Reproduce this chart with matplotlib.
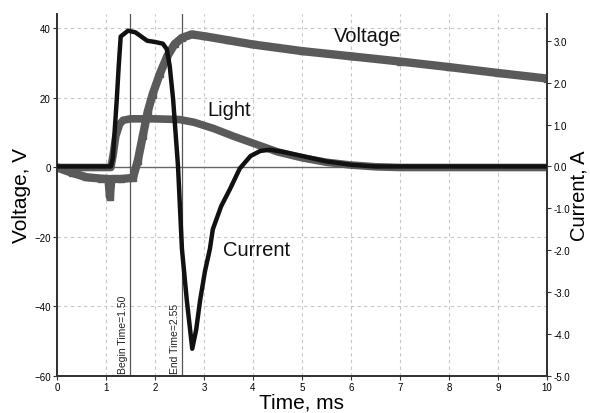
import numpy as np
import matplotlib.pyplot as plt

plt.rcParams['font.family'] = ['Liberation Sans', 'DejaVu Sans']

# voltage trace (V, left axis)
t_volt = [0, 0.3, 0.6, 0.9, 1.05, 1.08, 1.11, 1.3, 1.55, 1.65, 1.75, 1.85, 1.95, 2.1,
          2.25, 2.4, 2.55, 2.75, 3.0, 3.5, 4.0, 5.0, 6.0, 7.0, 8.0, 9.0, 10.0]
volt = [0, -1.5, -2.8, -3.2, -3.3, -8.5, -3.3, -3.3, -3.0, 2, 9, 16, 21, 27,
        32, 35.5, 37.3, 38.3, 37.8, 36.6, 35.4, 33.5, 32.0, 30.5, 28.9, 27.2, 25.6]

# light trace (arb. units, plotted on left axis)
t_light = [0, 1.1, 1.15, 1.2, 1.28, 1.35, 1.5, 2.0, 2.5, 2.8, 3.2, 3.6, 4.0,
           4.5, 5.0, 5.5, 6.0, 6.5, 7.0, 10.0]
light = [0, 0, 4, 9, 12.5, 13.6, 14, 14, 13.8, 13.0, 11.2, 9.0, 7.0,
         4.5, 2.8, 1.5, 0.7, 0.2, 0, 0]

# current trace (A, right axis)
t_curr = [0, 1.1, 1.14, 1.18, 1.22, 1.26, 1.3, 1.45, 1.6, 1.84, 2.0, 2.16, 2.24, 2.3,
          2.37, 2.47, 2.55, 2.65, 2.76, 2.84, 2.92, 3.02, 3.12, 3.18, 3.35, 3.53,
          3.73, 3.95, 4.15, 4.35, 4.6, 5.0, 5.5, 6.0, 6.5, 10.0]
curr = [0, 0, 0.2, 0.9, 1.6, 2.4, 3.1, 3.24, 3.2, 3.0, 2.97, 2.93, 2.8, 2.4,
        1.6, 0, -1.97, -3.2, -4.35, -3.9, -3.2, -2.5, -1.97, -1.5, -0.95, -0.54,
        -0.05, 0.25, 0.37, 0.4, 0.35, 0.25, 0.12, 0.04, 0, 0]

begin_time = 1.50
end_time = 2.55

gray = '#5a5a5a'
spine_c = '#333333'

fig = plt.figure(figsize=(5.9, 4.14), dpi=100)
ax1 = fig.add_axes([0.0966, 0.0894, 0.8305, 0.8746])
ax2 = ax1.twinx()

ax1.set_xlim(0, 10)
ax1.set_ylim(-60, 44.2)
ax2.set_ylim(-5, 3.64)

# grid
for x in range(1, 10):
    ax1.axvline(x, color='#c8c8c8', lw=0.8, ls=(0, (3, 3)), zorder=0)
for y in [40, 20, -20, -40]:
    ax1.axhline(y, color='#c8c8c8', lw=0.8, ls=(0, (3, 3)), zorder=0)
ax1.axhline(0, color='#666666', lw=1.0, zorder=1)

ax1.axvline(begin_time, color='#555555', lw=0.9, zorder=1)
ax1.axvline(end_time, color='#555555', lw=0.9, zorder=1)
ax1.annotate('Begin Time=%.2f' % begin_time, (begin_time, -60), xytext=(-1.5, 2),
             textcoords='offset points', rotation=90, ha='right', va='bottom',
             fontsize=7.5, color='#222222')
ax1.annotate('End Time=%.2f' % end_time, (end_time, -60), xytext=(-1.5, 2),
             textcoords='offset points', rotation=90, ha='right', va='bottom',
             fontsize=7.5, color='#222222')

ax1.plot(t_light, light, color=gray, lw=5.5, solid_joinstyle='round', zorder=2)
ax1.plot(t_volt, volt, color=gray, lw=6, marker='s', ms=4.5, solid_joinstyle='round', zorder=3)
ax2.plot(t_curr, curr, color='#111111', lw=3.2, solid_joinstyle='round', zorder=3)

ax1.text(6.33, 37.9, 'Voltage', fontsize=14.5, ha='center', va='center', color='#111111')
ax1.text(3.51, 16.7, 'Light', fontsize=14.5, ha='center', va='center', color='#111111')
ax1.text(4.08, -23.6, 'Current', fontsize=14.5, ha='center', va='center', color='#111111')

ax1.set_xticks(range(0, 11))
ax1.set_yticks([-60, -40, -20, 0, 20, 40])
ax2.set_yticks([-5, -4, -3, -2, -1, 0, 1, 2, 3])
ax2.set_yticklabels(['%.1f' % v for v in [-5, -4, -3, -2, -1, 0, 1, 2, 3]])

for ax in (ax1, ax2):
    ax.spines['top'].set_visible(False)
    for s in ('left', 'right', 'bottom'):
        ax.spines[s].set_color(spine_c)
        ax.spines[s].set_linewidth(1.3)
    ax.tick_params(labelsize=7, length=3, width=0.8, color=spine_c, pad=1.5)

ax1.set_xlabel('Time, ms', fontsize=15, labelpad=0)
ax1.set_ylabel('Voltage, V', fontsize=15, labelpad=2)
ax2.set_ylabel('Current, A', fontsize=14.5, rotation=90, labelpad=0)

fig.savefig('out.png', dpi=100)
